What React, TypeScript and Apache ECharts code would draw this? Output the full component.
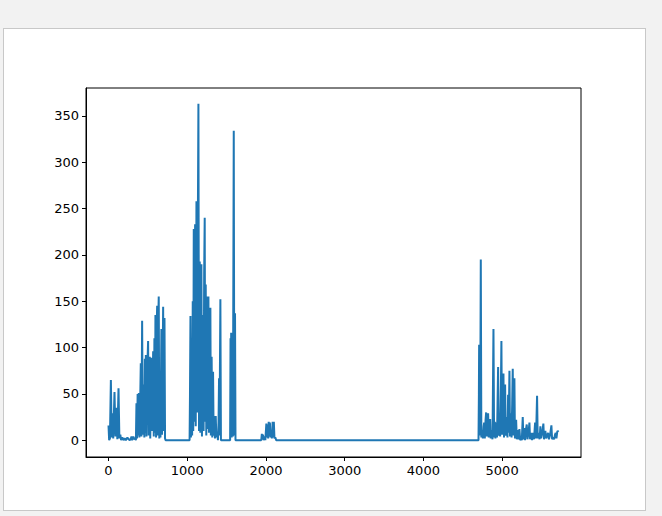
import React, { useEffect, useRef } from "react";
import * as echarts from "echarts";

// [index, value] readings, segment by segment
const segStart: [number, number][] = [
  [0, 16], [8, 0], [18, 2], [30, 65], [40, 3], [51, 29], [60, 2], [76, 52], [88, 4], [101, 35], [112, 1], [127, 56], [138, 2], [150, 6], [160, 0],
  [175, 3], [190, 0], [205, 2], [220, 0], [240, 3], [255, 1], [270, 0], [285, 2], [292, 4], [300, 0], [315, 4], [325, 1], [340, 2], [348, 0],
];
const segEarly: [number, number][] = [
  [355, 40], [362, 2], [370, 50], [378, 5], [385, 51], [392, 3], [400, 30], [410, 83], [418, 4], [427, 129], [435, 6], [448, 60], [455, 3], [462, 88], [468, 8], [474, 92], [482, 4], [490, 70], [503, 107], [510, 5], [517, 85], [524, 90], [530, 2], [545, 89], [552, 10], [567, 96], [575, 4], [583, 110], [590, 8], [596, 135], [604, 3], [611, 120], [618, 145], [625, 5], [632, 130], [638, 155], [645, 2], [652, 40], [660, 3], [672, 120], [680, 6], [694, 144], [700, 10], [705, 80], [711, 132], [718, 2], [725, 0],
];
const segMain: [number, number][] = [
  [1030, 0], [1035, 50], [1041, 134], [1047, 3], [1055, 60], [1062, 5], [1070, 150], [1076, 10], [1083, 228], [1090, 20], [1100, 233], [1108, 15], [1117, 258], [1125, 30], [1133, 200], [1142, 363], [1150, 10], [1159, 193], [1166, 8], [1173, 140], [1180, 190], [1187, 4], [1194, 100], [1201, 135], [1208, 10], [1215, 180], [1222, 240], [1228, 20], [1235, 168], [1242, 5], [1252, 155], [1258, 12], [1265, 130], [1269, 155], [1276, 8], [1283, 100], [1294, 143], [1300, 5], [1310, 90], [1318, 3], [1328, 74], [1335, 5], [1345, 26], [1352, 2], [1362, 26], [1370, 3], [1380, 9], [1390, 0], [1398, 20], [1404, 67], [1410, 5], [1421, 152], [1428, 0],
];
const segPeak: [number, number][] = [
  [1545, 0], [1550, 110], [1554, 5], [1558, 116], [1564, 3], [1572, 50], [1580, 4], [1591, 334], [1598, 5], [1607, 137], [1613, 0],
];
const segSmall: [number, number][] = [
  [1940, 0], [1948, 7], [1955, 1], [1962, 6], [1970, 0], [1985, 4], [1992, 0], [2005, 18], [2012, 3], [2020, 17], [2028, 2], [2035, 20], [2042, 4], [2050, 19], [2058, 3], [2068, 8], [2075, 2], [2085, 20], [2092, 3], [2100, 20], [2108, 2], [2120, 3], [2130, 0], [2140, 0],
];
const segLate: [number, number][] = [
  [4700, 0], [4705, 50], [4708, 103], [4715, 5], [4722, 30], [4729, 195], [4736, 3], [4746, 11], [4755, 2], [4765, 15], [4772, 19], [4780, 2], [4790, 22], [4797, 30], [4805, 4], [4815, 25], [4822, 29], [4830, 3], [4840, 20], [4848, 23], [4855, 2], [4869, 11], [4878, 1], [4890, 120], [4898, 3], [4907, 20], [4915, 2], [4928, 19], [4935, 3], [4942, 40], [4949, 79], [4956, 5], [4966, 22], [4975, 4], [4985, 60], [4991, 107], [4998, 6], [5010, 40], [5017, 72], [5024, 3], [5032, 30], [5038, 60], [5045, 5], [5060, 25], [5068, 3], [5076, 49], [5083, 8], [5093, 75], [5100, 4], [5114, 29], [5120, 3], [5128, 40], [5135, 77], [5142, 5], [5150, 30], [5156, 67], [5163, 2], [5178, 22], [5186, 1], [5195, 11], [5205, 1], [5220, 12], [5230, 0], [5241, 2], [5250, 0], [5262, 25], [5270, 1], [5283, 13], [5292, 0], [5300, 10], [5313, 17], [5322, 1], [5335, 8], [5347, 19], [5355, 1], [5368, 8], [5380, 0], [5393, 8], [5405, 1], [5419, 19], [5428, 2], [5436, 20], [5444, 48], [5452, 2], [5466, 8], [5476, 1], [5486, 15], [5495, 2], [5510, 8], [5524, 18], [5532, 1], [5549, 10], [5560, 2], [5572, 5], [5584, 8], [5595, 1], [5610, 6], [5626, 16], [5635, 1], [5651, 3], [5660, 1], [5672, 6], [5681, 8], [5690, 2], [5700, 9], [5706, 10], [5716, 9],
];

const xTicks = [0, 1000, 2000, 3000, 4000, 5000];
const yTicks = [0, 50, 100, 150, 200, 250, 300, 350];

export default function App() {
  const ref = useRef<HTMLDivElement>(null);
  useEffect(() => {
    document.body.style.margin = "0";
    const chart = echarts.init(ref.current!, undefined, { renderer: "svg" });
    const data = [...segStart, ...segEarly, ...segMain, ...segPeak, ...segSmall, ...segLate];
    const font = { fontFamily: "DejaVu Sans", fontSize: 13, color: "#000", formatter: (v: number) => String(v) };
    chart.setOption({
      animation: false,
      grid: { left: 86, top: 88, right: 81, bottom: 59, show: true, borderColor: "#000", borderWidth: 1, backgroundColor: "transparent" },
      xAxis: {
        type: "value", min: -286, max: 6002,
        splitLine: { show: false },
        axisLine: { show: true, onZero: false, lineStyle: { color: "#000", width: 1 } },
        axisTick: { show: true, length: 4, inside: false, customValues: xTicks, lineStyle: { color: "#000" } },
        axisLabel: { ...font, margin: 7, customValues: xTicks },
      },
      yAxis: {
        type: "value", min: -18.1, max: 380.1,
        splitLine: { show: false },
        axisLine: { show: true, onZero: false, lineStyle: { color: "#000", width: 1 } },
        axisTick: { show: true, length: 4, inside: false, customValues: yTicks, lineStyle: { color: "#000" } },
        axisLabel: { ...font, margin: 7, customValues: yTicks },
      },
      series: [{
        type: "line", data, showSymbol: false, symbol: "none",
        lineStyle: { color: "#1f77b4", width: 2 },
      }],
    });
    return () => chart.dispose();
  }, []);
  return (
    <div style={{ position: "relative", width: 662, height: 516, background: "#f2f2f2" }}>
      <div style={{ position: "absolute", left: 3, top: 28, width: 641, height: 481, background: "#fff", border: "1px solid #c8c8c8" }} />
      <div ref={ref} style={{ position: "absolute", left: 0, top: 0, width: 662, height: 516 }} />
    </div>
  );
}
